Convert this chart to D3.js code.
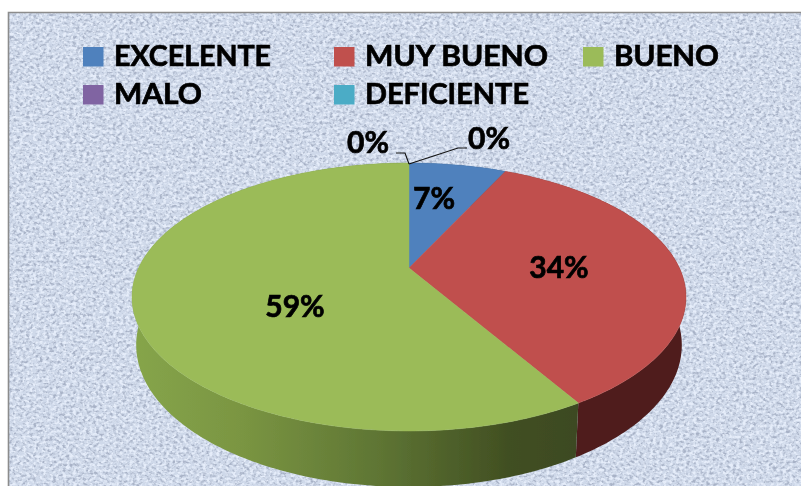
<!DOCTYPE html>
<html><head><meta charset="utf-8">
<script src="https://cdnjs.cloudflare.com/ajax/libs/d3/7.9.0/d3.min.js"></script>
<style>html,body{margin:0;padding:0;background:#fff}svg{display:block}</style>
</head><body><svg id="c" width="801" height="486"></svg>
<script>
const categories = ["EXCELENTE","MUY BUENO","BUENO","MALO","DEFICIENTE"];
const values = [7, 34.49, 58.51, 0, 0];
const labels = ["7%","34%","59%","0%","0%"];
const topColors = ["#4f81bd","#c0504d","#9bbb59","#8064a2","#4bacc6"];
const wallColors = ["#2f4d71","#4f1f1e","url(#greenWall)","#4c3c61","#2d6776"];

const W=801,H=486;
const svg=d3.select("#c");
const defs=svg.append("defs");

// fabric-like background texture
const f=defs.append("filter").attr("id","fabric").attr("x",0).attr("y",0).attr("width","100%").attr("height","100%").attr("color-interpolation-filters","sRGB");
f.append("feTurbulence").attr("type","fractalNoise").attr("baseFrequency","0.3 0.36").attr("numOctaves",2).attr("seed",7).attr("result","n");
f.append("feColorMatrix").attr("in","n").attr("type","matrix").attr("result","dark")
 .attr("values","0 0 0 0 0.66  0 0 0 0 0.70  0 0 0 0 0.78  3.6 0 0 0 -1.6");
f.append("feColorMatrix").attr("in","n").attr("type","matrix").attr("result","light")
 .attr("values","0 0 0 0 0.90  0 0 0 0 0.93  0 0 0 0 0.98  0 3.6 0 0 -1.55");
f.append("feMerge").attr("result","m").call(m=>{m.append("feMergeNode").attr("in","SourceGraphic");m.append("feMergeNode").attr("in","dark");m.append("feMergeNode").attr("in","light");});
f.append("feGaussianBlur").attr("in","m").attr("stdDeviation",0.6);

const soft=defs.append("filter").attr("id","soft").attr("x","-5%").attr("y","-5%").attr("width","110%").attr("height","110%");
soft.append("feGaussianBlur").attr("stdDeviation",0.45);
const softT=defs.append("filter").attr("id","softT").attr("x","-5%").attr("y","-5%").attr("width","110%").attr("height","110%");
softT.append("feGaussianBlur").attr("stdDeviation",0.4);

const gw=defs.append("linearGradient").attr("id","greenWall").attr("gradientUnits","userSpaceOnUse")
  .attr("x1",132).attr("x2",575).attr("y1",0).attr("y2",0);
[[0,"#86a54a"],[0.25,"#7a9542"],[0.55,"#5f7634"],[0.85,"#414f22"],[1,"#3d4a21"]]
 .forEach(s=>gw.append("stop").attr("offset",s[0]).attr("stop-color",s[1]));

svg.append("rect").attr("width",W).attr("height",H).attr("fill","#fff");
svg.append("rect").attr("x",9).attr("y",13).attr("width",W-9).attr("height",H-13).attr("fill","#cfd9ea").attr("filter","url(#fabric)");
svg.append("path").attr("d",`M8.5 ${H}V12.5H${W}`).attr("fill","none").attr("stroke","#8c8c8c").attr("stroke-width",1.6);

// perspective projection of the unit disc on the screen
const c=-0.2164,k=69.7,R=270.4;
const topP=(x,y)=>{const d=1+c*y;return [409+R*x/d,(268+k*y)/d];};
const botP=(x,y)=>{const p=topP(x,y);return [409+(p[0]-409)*0.985,345+(p[1]-297)*1.06];};
const pt=(proj,a,r=1)=>proj(r*Math.sin(a),-r*Math.cos(a));

const pie=d3.pie().sort(null).value(d=>d)(values);
const color=d3.scaleOrdinal(categories,topColors);
const wall=d3.scaleOrdinal(categories,wallColors);
const line=d3.line();
const g=svg.append("g").attr("filter","url(#soft)");
const arcPts=(proj,s)=>{const n=Math.max(2,Math.ceil((s.endAngle-s.startAngle)*60));
  return d3.range(n+1).map(i=>pt(proj,s.startAngle+(s.endAngle-s.startAngle)*i/n));};

// walls, then top faces
const active=pie.map((s,i)=>({s,i})).filter(d=>d.s.value>0);
g.selectAll("path.wall").data(active).join("path").attr("class","wall")
 .attr("d",d=>line(arcPts(topP,d.s).concat(arcPts(botP,d.s).reverse()))+"Z")
 .attr("fill",d=>wall(categories[d.i]));
g.selectAll("path.top").data(active).join("path").attr("class","top")
 .attr("d",d=>line([topP(0,0)].concat(arcPts(topP,d.s)))+"Z")
 .attr("fill",d=>color(categories[d.i])).attr("stroke",d=>color(categories[d.i])).attr("stroke-width",0.5);

// leader lines for the zero-valued slices
const origin=pt(topP,0);
const leaders=[[[origin[0],origin[1]+1],[405,153],[396,153]],[[origin[0],origin[1]+1],[458,148],[467,148]]];
svg.selectAll("path.leader").data(leaders).join("path").attr("class","leader")
 .attr("d",line).attr("fill","none").attr("stroke","#111").attr("stroke-width",1.1);

const font="Lato, Carlito, sans-serif";
// legend
const colX=d3.scaleOrdinal([0,1,2],[83,334,583]);
const rowY=d3.scaleOrdinal([0,1],[47,85]);
const textLen=[157,183,105,88,164];
const leg=svg.selectAll("g.leg").data(categories).join("g").attr("class","leg")
 .attr("transform",(d,i)=>`translate(${colX(i%3)},${rowY(Math.floor(i/3))})`);
leg.append("rect").attr("width",20.5).attr("height",19.5).attr("fill",(d,i)=>topColors[i]);
leg.append("text").attr("x",31).attr("y",18.5).text(d=>d)
 .attr("font-family",font).attr("font-weight",700).attr("font-size",29).attr("fill","#000")
 .attr("stroke","#000").attr("stroke-width",0.7).attr("filter","url(#softT)")
 .attr("textLength",(d,i)=>textLen[i]).attr("lengthAdjust","spacingAndGlyphs");

// data labels
const labelAt=[[434,198],[559,267],[295,306],[368,142],[489,138]];
svg.selectAll("text.dl").data(labels).join("text").attr("class","dl")
 .attr("x",(d,i)=>labelAt[i][0]).attr("y",(d,i)=>labelAt[i][1]).attr("dy","0.35em")
 .attr("text-anchor","middle").text(d=>d)
 .attr("font-family",font).attr("font-weight",700).attr("font-size",30).attr("fill","#000")
 .attr("stroke","#000").attr("stroke-width",0.7).attr("filter","url(#softT)");
</script></body></html>
